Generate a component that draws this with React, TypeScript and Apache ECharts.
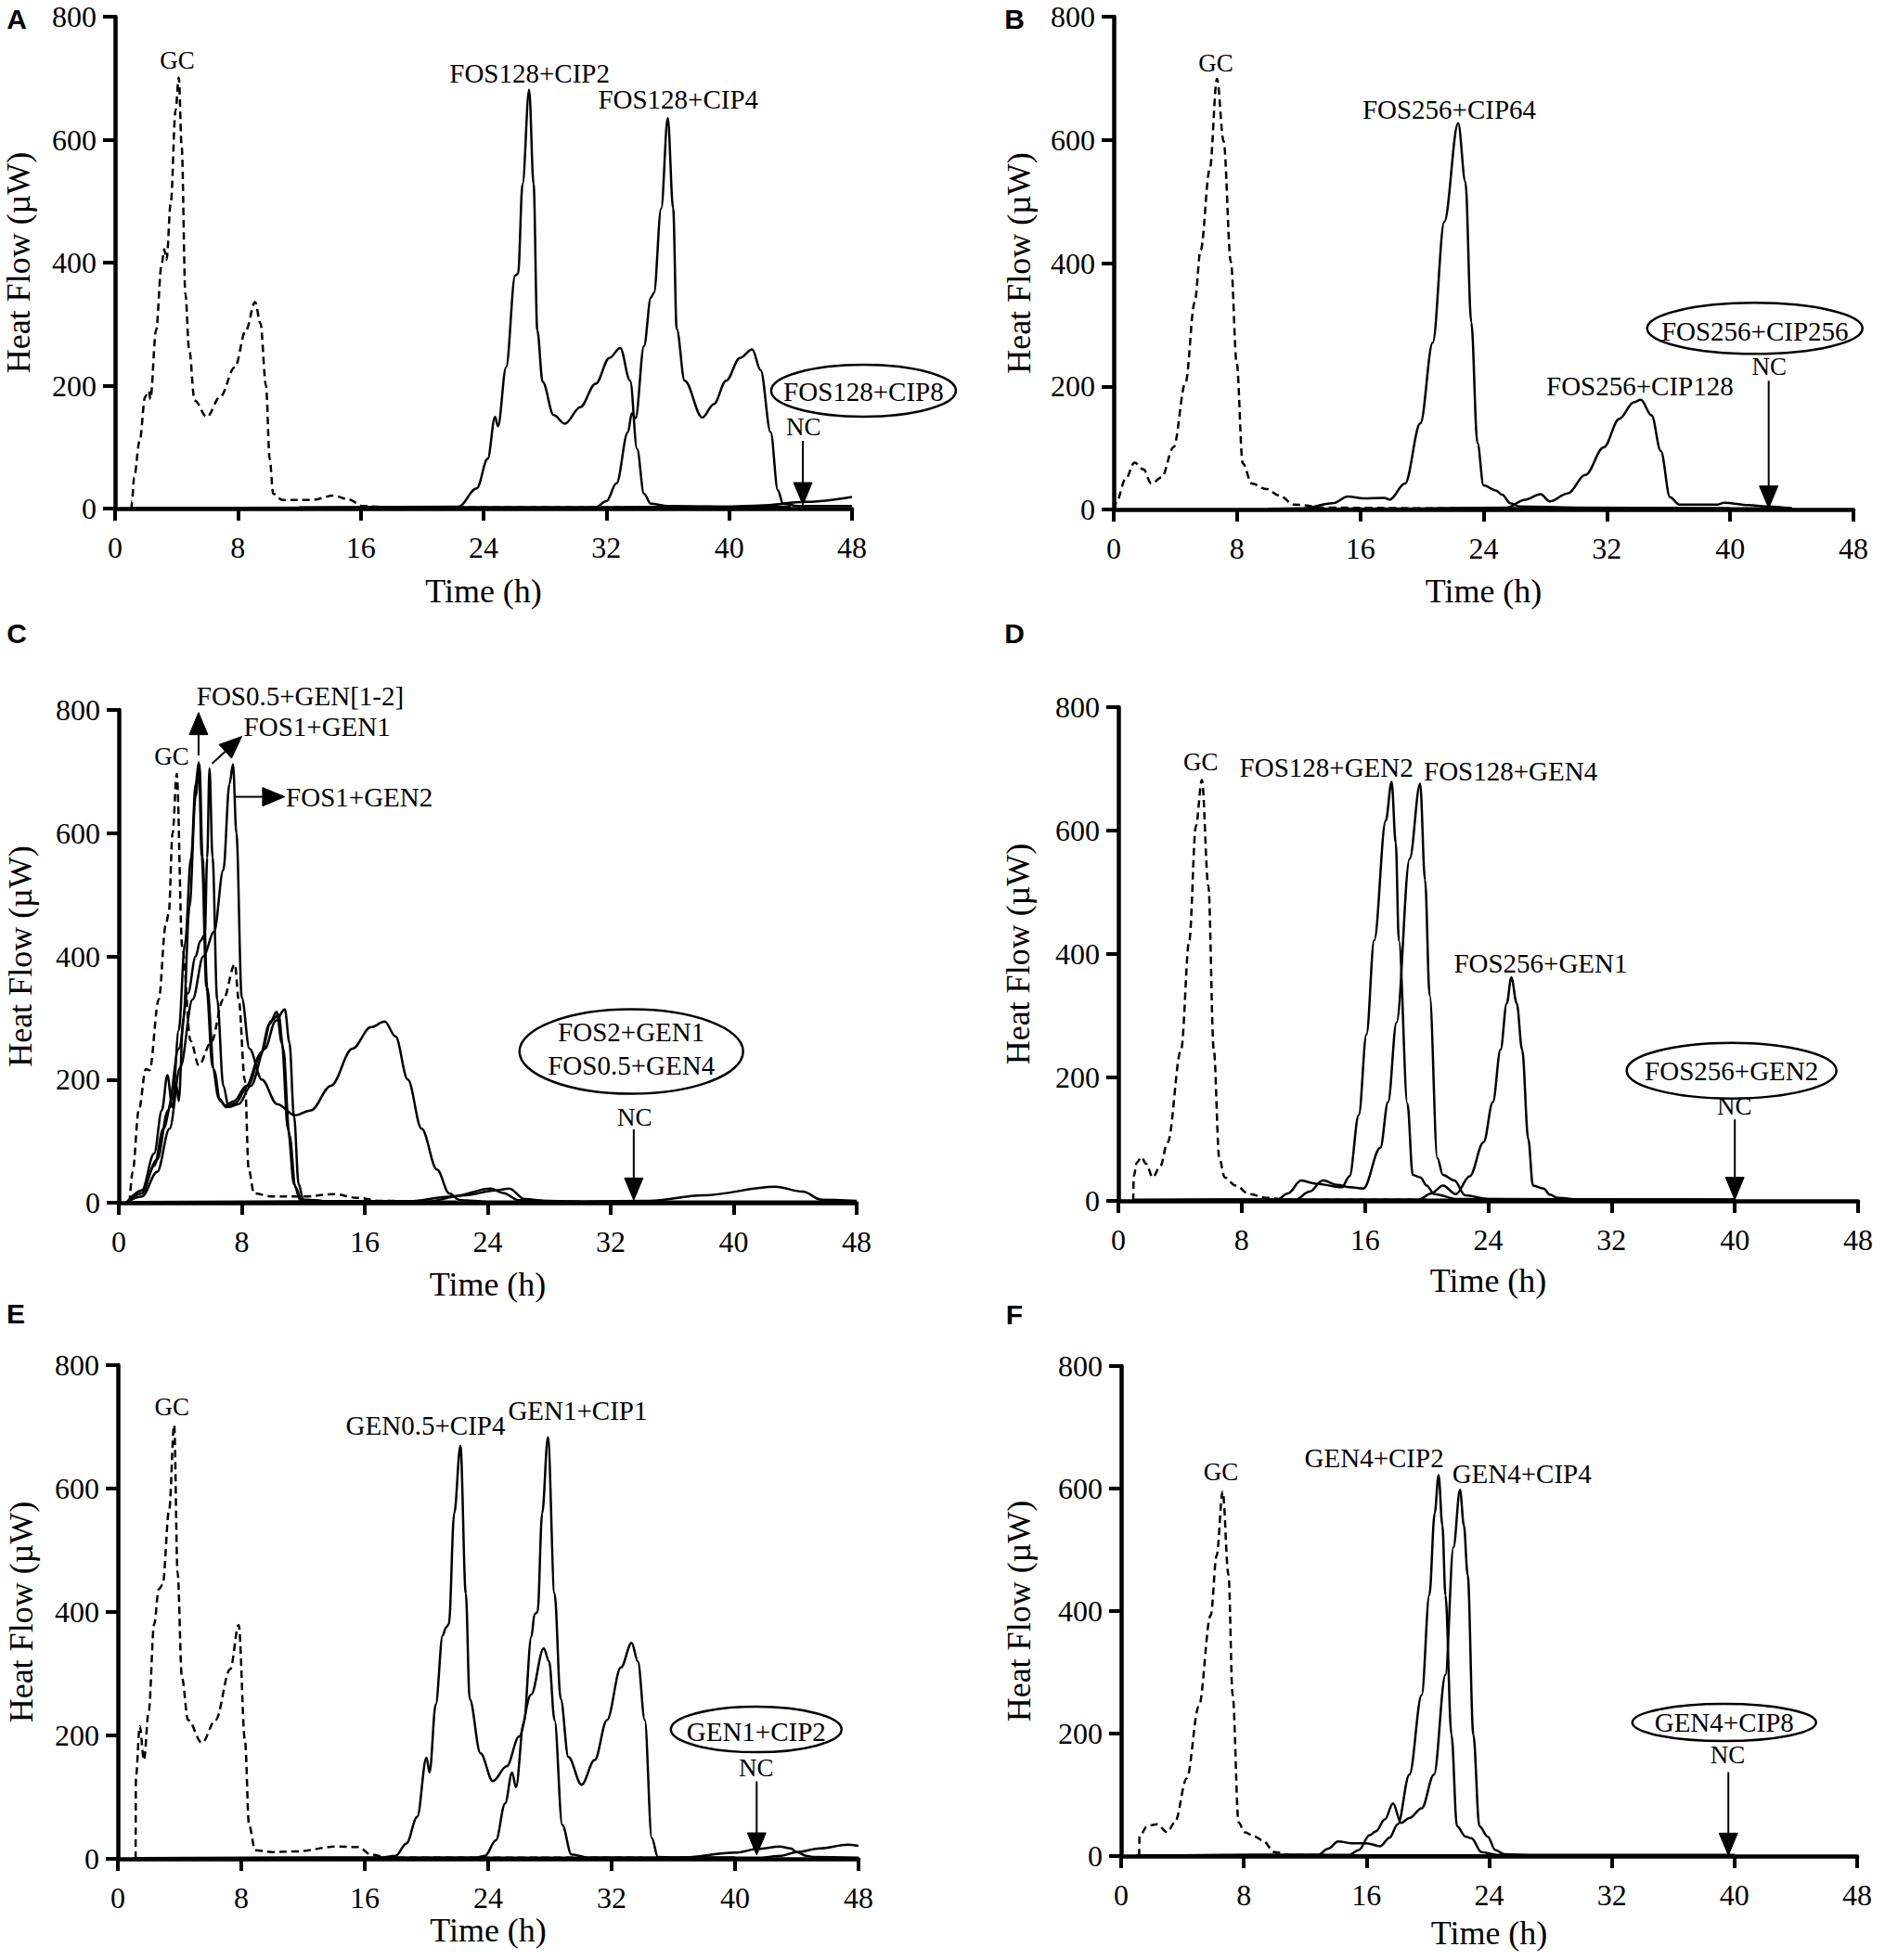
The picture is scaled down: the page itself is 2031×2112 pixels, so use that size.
import React, { useEffect, useRef } from "react";
import * as echarts from "echarts";

// ---------- axis ticks ----------
const X_MIN = 0, X_MAX = 48, X_STEP = 8;
const Y_MIN = 0, Y_MAX = 800, Y_STEP = 200;

// ---------- Panel A ----------
const A_GC = [[1.07,0],[1.1,12],[1.24,51],[1.6,110],[1.96,182],[2.2,191],[2.3,178],[2.67,290],[3.03,397],[3.2,422],[3.35,405],[3.63,498],[3.94,648],[4.15,701],[4.34,588],[4.58,349],[4.82,260],[5.18,176],[5.97,149],[6.85,182],[7.8,230],[8.52,290],[9.12,336],[9.47,301],[9.83,200],[10.07,81],[10.3,24],[10.9,14],[12.8,14],[14.25,21],[15.2,15],[16.15,4],[18,2],[26,2],[34,2],[44,2]];
const A_CIP2 = [[12,2],[22.36,3],[23.56,33],[24.27,81],[24.75,149],[24.94,134],[25.47,230],[26.06,379],[26.25,382],[26.54,528],[26.97,681],[27.26,528],[27.5,290],[27.85,206],[28.57,152],[29.3,138],[30.3,165],[31.3,203],[32.2,245],[32.9,261],[33.55,208],[34.0,97],[34.45,24],[34.9,8],[36,4],[40,3],[44,3]];
const A_CIP4 = [[12,1],[31.3,2],[32.0,12],[32.66,41],[33.4,124],[33.66,155],[33.9,147],[34.45,264],[34.9,343],[35.1,351],[35.57,488],[36.0,635],[36.35,488],[36.58,292],[37.1,208],[38.25,148],[39.0,170],[39.8,208],[40.7,245],[41.5,259],[42.05,225],[42.7,124],[43.17,30],[43.5,8],[44.5,4],[48,4]];
const A_CIP8 = [[1,1],[30,2],[40,3],[42,5],[45,11],[48,19]];

// ---------- Panel B ----------
const B_GC = [[0.05,0],[0.18,13],[0.76,49],[1.35,76],[1.93,65],[2.44,42],[3.1,52],[3.88,101],[4.66,206],[5.25,336],[5.64,421],[6.23,552],[6.7,699],[7.13,598],[7.6,402],[7.98,238],[8.37,75],[8.96,42],[9.94,33],[10.72,23],[11.7,8],[13.8,3],[20,2],[28,2]];
const B_CIP64 = [[10,1],[12.3,2],[14.2,10],[15.2,21],[16.2,18],[17.55,19],[17.9,16],[18.9,42],[19.9,140],[20.7,271],[21.45,467],[22.35,627],[22.82,532],[23.2,304],[23.6,108],[24.0,39],[24.8,31],[25.2,24],[25.75,10],[26.3,5],[30,3],[40,2]];
const B_CIP128 = [[20,1],[25.5,3],[26.7,16],[27.7,25],[28.3,13],[29.45,26],[30.6,56],[31.8,101],[32.8,147],[33.75,174],[34.2,178],[34.9,153],[35.5,95],[36.1,20],[36.7,8],[39.2,8],[39.6,11],[41.2,7],[42.35,5],[44,2]];
const B_CIP256 = [[10,1],[30,2],[44,2]];

// ---------- Panel C ----------
const C_GC = [[0.7,0],[0.9,50],[1.3,150],[1.76,217],[2.0,215],[2.6,330],[3.05,450],[3.25,470],[3.5,600],[3.77,696],[4.13,414],[4.67,263],[5.2,223],[6.0,260],[6.8,330],[7.55,387],[7.8,330],[8.2,199],[8.45,54],[8.8,15],[10,10],[12,10],[14,14],[15.5,8],[17,3],[20,2]];
const C_F05G1 = [[0.5,0],[1.5,20],[2.3,80],[2.8,150],[3.16,207],[3.48,155],[3.9,280],[4.3,420],[4.7,560],[5.0,680],[5.2,715],[5.4,560],[5.7,350],[6.1,220],[6.5,170],[6.93,158],[7.5,165],[8.3,190],[9.2,240],[9.8,290],[10.27,310],[10.6,260],[11.0,120],[11.4,30],[11.8,5],[14,2],[20,2]];
const C_F05G2 = [[0.5,0],[1.5,15],[2.3,60],[2.9,120],[3.5,170],[3.75,190],[3.9,165],[4.2,300],[4.6,480],[5.0,660],[5.25,712],[5.45,560],[5.75,350],[6.2,215],[6.6,165],[7.0,155],[7.6,162],[8.4,190],[9.3,245],[9.9,295],[10.4,305],[10.7,250],[11.1,110],[11.5,25],[11.9,4],[14,2],[20,2]];
const C_F1G1 = [[0.5,0],[1.5,20],[2.5,70],[3.2,150],[3.9,250],[4.5,340],[5.0,400],[5.3,425],[5.6,435],[5.75,560],[5.9,705],[6.1,560],[6.4,330],[6.8,190],[7.15,155],[7.8,160],[8.6,190],[9.5,250],[10.2,295],[10.8,314],[11.1,260],[11.4,140],[11.7,30],[12.0,5],[14,2],[22,2]];
const C_F1G2 = [[0.5,0],[1.5,10],[2.5,50],[3.3,120],[4.0,220],[4.8,330],[5.5,400],[6.2,440],[6.8,540],[7.2,680],[7.43,712],[7.65,600],[8.0,333],[8.5,250],[9.3,200],[10.3,160],[11.46,142],[12.5,150],[13.8,190],[15.2,250],[16.4,285],[17.3,294],[18.0,270],[18.8,200],[19.7,120],[20.7,54],[21.5,15],[22.2,4],[24,2],[30,2]];
const C_F2G1 = [[1,1],[18.7,2],[21.7,10],[24.2,23],[25.0,16],[26,4],[30,2],[34.5,3],[38,12],[42.7,26],[44.5,18],[45.7,5],[48,3]];
const C_F05G4 = [[1,1],[20,2],[22.5,12],[24.5,20],[25.4,23],[26.4,6],[28,2],[48,2]];

// ---------- Panel D ----------
const D_GC = [[0.96,0],[1.0,40],[1.2,62],[1.49,71],[1.8,60],[2.23,38],[2.7,55],[3.2,95],[4.07,245],[4.6,422],[5.03,607],[5.42,682],[5.84,510],[6.19,245],[6.55,69],[6.9,38],[7.6,25],[8.5,11],[9.6,5],[11,2],[20,2]];
const D_F128G2 = [[1,1],[10.3,2],[11.0,12],[11.86,33],[12.8,28],[14.5,22],[15.0,40],[15.6,139],[16.1,270],[16.6,422],[17.35,616],[17.73,679],[18.0,580],[18.2,422],[18.76,157],[19.1,42],[19.6,38],[20.0,25],[20.5,11],[22,3],[30,2],[40,2]];
const D_F128G4 = [[1,1],[11.5,2],[12.4,15],[13.27,33],[14.2,26],[15.0,22],[15.9,20],[17.0,86],[17.5,160],[18.05,289],[18.9,554],[19.58,676],[19.9,520],[20.2,333],[20.7,69],[21.06,42],[21.8,33],[22.5,9],[24,3],[40,2]];
const D_F256G1 = [[1,1],[19.5,2],[20.3,12],[21.06,25],[21.9,11],[22.8,40],[23.7,95],[24.3,160],[24.8,245],[25.2,320],[25.5,362],[25.85,320],[26.2,245],[26.6,100],[26.9,25],[27.6,20],[28.0,10],[28.5,5],[30,2],[40,2]];
const D_F256G2 = [[1,2],[38,2]];

// ---------- Panel E ----------
const E_GC = [[1.15,0],[1.17,133],[1.42,215],[1.69,160],[2.0,240],[2.35,380],[2.65,437],[2.9,444],[3.33,567],[3.65,703],[3.87,464],[4.15,294],[4.55,225],[5.45,188],[6.33,225],[7.28,307],[7.83,379],[8.24,191],[8.5,55],[8.9,14],[10,11],[11.5,12],[14.2,20],[15.6,19],[16.4,7],[17.5,2],[26,2],[34,2]];
const E_G05C4 = [[1,1],[17,2],[18,5],[18.7,25],[19.4,68],[20.0,164],[20.2,140],[20.6,250],[21.05,362],[21.27,375],[21.45,380],[21.8,560],[22.2,669],[22.55,430],[22.8,259],[23.5,171],[24.3,126],[25.2,150],[26.0,198],[26.78,266],[27.6,341],[27.95,320],[28.3,225],[28.8,55],[29.4,7],[30.5,2],[40,2]];
const E_G1C1 = [[1,1],[23.2,2],[23.8,5],[24.5,30],[25.1,90],[25.55,140],[25.8,116],[26.3,220],[26.8,360],[27.0,396],[27.2,400],[27.5,560],[27.87,683],[28.3,430],[28.7,259],[29.2,165],[30.05,120],[30.9,160],[31.7,225],[32.6,310],[33.3,350],[33.7,320],[34.15,225],[34.6,34],[35.0,3],[36,2],[40,2]];
const E_G1C2a = [[1,1],[36.5,2],[40,10],[41.5,16],[42.9,20],[43.6,17],[44,11],[44.6,5],[45.1,3],[48,2]];
const E_G1C2b = [[36,2],[41.6,2],[43,5],[44,11],[45.5,17],[47.3,23],[48,21]];

// ---------- Panel F ----------
const F_GC = [[1.17,0],[1.2,32],[1.7,49],[2.34,52],[3.0,39],[3.5,55],[4.28,127],[5.06,244],[5.84,393],[6.23,491],[6.62,595],[7.0,459],[7.27,263],[7.66,55],[8.05,39],[8.7,32],[9.2,26],[10,6.5],[11,2],[14,1]];
const F_C2 = [[1,1],[12.85,2],[13.5,12],[14.15,24],[15,21],[16,21],[16.9,16],[17.5,30],[18.04,52],[18.8,133],[19.6,263],[20.1,426],[20.45,560],[20.7,622],[20.95,540],[21.15,426],[21.54,198],[21.9,49],[22.45,32],[22.84,29],[23.5,6.5],[24.5,2],[40,2]];
const F_C4 = [[1,1],[14.9,2],[15.5,10],[16.2,34],[16.6,40],[17.2,60],[17.73,86],[18.25,54],[18.8,62],[19.6,78],[20.4,133],[21.15,296],[21.67,504],[22.1,598],[22.35,540],[22.6,459],[22.97,198],[23.36,49],[23.9,32],[24.4,10],[25,3],[27,1],[40,1]];
const F_C8 = [[1,1],[40,1]];

// ---------- series list: [panel, data, dashed] ----------
const SERIES: [number, number[][], boolean][] = [
  [0, A_GC, true], [0, A_CIP2, false], [0, A_CIP4, false], [0, A_CIP8, false],
  [1, B_GC, true], [1, B_CIP64, false], [1, B_CIP128, false], [1, B_CIP256, false],
  [2, C_GC, true], [2, C_F05G1, false], [2, C_F05G2, false], [2, C_F1G1, false], [2, C_F1G2, false], [2, C_F2G1, false], [2, C_F05G4, false],
  [3, D_GC, true], [3, D_F128G2, false], [3, D_F128G4, false], [3, D_F256G1, false], [3, D_F256G2, false],
  [4, E_GC, true], [4, E_G05C4, false], [4, E_G1C1, false], [4, E_G1C2a, false], [4, E_G1C2b, false],
  [5, F_GC, true], [5, F_C2, false], [5, F_C4, false], [5, F_C8, false],
];

// ---------- annotations (data coordinates) ----------
type Lab = [string, number, number, number?];
const LABELS: Lab[][] = [
  [["GC", 4.05, 729, 27], ["FOS128+CIP2", 27.0, 708], ["FOS128+CIP4", 36.68, 666], ["FOS128+CIP8", 48.75, 190], ["NC", 44.84, 133, 27]],
  [["GC", 6.62, 725, 27], ["FOS256+CIP64", 21.77, 650], ["FOS256+CIP128", 34.14, 200], ["FOS256+CIP256", 41.6, 290], ["NC", 42.53, 232, 27]],
  [["GC", 3.44, 725, 27], ["FOS0.5+GEN[1-2]", 11.8, 823], ["FOS1+GEN1", 12.9, 773], ["FOS1+GEN2", 15.65, 659], ["FOS2+GEN1", 33.34, 277], ["FOS0.5+GEN4", 33.34, 222.5], ["NC", 33.55, 138.7, 27]],
  [["GC", 5.34, 711, 27], ["FOS128+GEN2", 13.5, 702.5], ["FOS128+GEN4", 25.45, 695.5], ["FOS256+GEN1", 27.4, 385], ["FOS256+GEN2", 39.79, 211], ["NC", 39.98, 153, 27]],
  [["GC", 3.5, 732.6, 27], ["GEN0.5+CIP4", 19.94, 702], ["GEN1+CIP1", 29.8, 726], ["GEN1+CIP2", 41.37, 206], ["NC", 41.37, 148, 27]],
  [["GC", 6.5, 626.6, 27], ["GEN4+CIP2", 16.5, 650.7], ["GEN4+CIP4", 26.13, 624.4], ["GEN4+CIP8", 39.33, 218], ["NC", 39.55, 164.6, 27]],
];
// ellipse: [t, v, widthPx, heightPx]
const ELLIPSES: number[][] = [
  [48.75, 191.7, 199, 56], [41.6, 294, 232, 55], [33.34, 245.5, 241, 91],
  [39.79, 211, 226, 60], [41.37, 209.6, 184, 49], [39.33, 218, 198, 40],
];
// arrows: [t0, v0, t1, v1] (tail -> tip)
const ARROWS: number[][][] = [
  [[44.8, 110, 44.8, 6]],
  [[42.5, 209, 42.5, 2]],
  [[5.19, 726, 5.19, 796], [6.07, 713, 8.0, 757], [7.58, 659, 10.8, 659], [33.5, 119, 33.5, 4]],
  [[40, 132, 40, 2]],
  [[41.4, 125.6, 41.4, 6]],
  [[39.6, 137, 39.6, 1]],
];

// ---------- layout ----------
const LAYOUT = [
  { id: "A", left: 124, top: 18, width: 794, height: 530, xGap: 71, yGap: 86, lx: 18, ly: 20 },
  { id: "B", left: 1200, top: 18, width: 797, height: 531, xGap: 70, yGap: 84, lx: 1093, ly: 20 },
  { id: "C", left: 128, top: 765, width: 795, height: 531, xGap: 70, yGap: 88, lx: 18, ly: 682 },
  { id: "D", left: 1205, top: 762, width: 797, height: 532, xGap: 68, yGap: 90, lx: 1093, ly: 682 },
  { id: "E", left: 127, top: 1471, width: 798, height: 532, xGap: 55, yGap: 86, lx: 17, ly: 1415 },
  { id: "F", left: 1208, top: 1472, width: 793, height: 528, xGap: 65, yGap: 92, lx: 1093, ly: 1416 },
];

const SERIF_NAME = "Liberation Serif";
const SERIF = '"Liberation Serif", "Times New Roman", serif';

function buildOption() {
  const axisLine = { show: true, onZero: false, lineStyle: { color: "#000", width: 4.5 } };
  const axisTick = { show: true, length: 13, lineStyle: { color: "#000", width: 4 } };
  const labelStyle = { color: "#000", fontSize: 32, fontFamily: SERIF_NAME, fontWeight: "normal" };
  return {
    animation: false,
    backgroundColor: "#fff",
    textStyle: { fontFamily: SERIF_NAME, color: "#000" },
    grid: LAYOUT.map((l) => ({ left: l.left, top: l.top, width: l.width, height: l.height, containLabel: false, outerBoundsMode: "none" })),
    xAxis: LAYOUT.map((l, i) => ({
      type: "value", gridIndex: i, min: X_MIN, max: X_MAX, interval: X_STEP,
      axisLine, axisTick, splitLine: { show: false },
      axisLabel: { ...labelStyle, margin: 26 },
      name: "Time (h)", nameLocation: "middle", nameGap: l.xGap,
      nameTextStyle: { color: "#000", fontSize: 36, fontFamily: SERIF_NAME },
    })),
    yAxis: LAYOUT.map((l, i) => ({
      type: "value", gridIndex: i, min: Y_MIN, max: Y_MAX, interval: Y_STEP,
      axisLine, axisTick, splitLine: { show: false },
      axisLabel: { ...labelStyle, margin: 20 },
      name: "Heat Flow (µW)", nameLocation: "middle", nameGap: l.yGap, nameRotate: 90,
      nameTextStyle: { color: "#000", fontSize: 36, fontFamily: SERIF_NAME },
    })),
    series: SERIES.map(([p, data, dashed]) => ({
      type: "line", xAxisIndex: p, yAxisIndex: p, data,
      showSymbol: false, symbol: "none", smooth: 0.35, smoothMonotone: "x",
      silent: true,
      lineStyle: { color: "#000", width: 2.5, type: dashed ? [8, 5] : "solid" },
    })),
  };
}

function buildGraphics(chart: any) {
  const g: any[] = [];
  LAYOUT.forEach((l, i) => {
    const px = (t: number, v: number) => chart.convertToPixel({ gridIndex: i }, [t, v]);
    g.push({
      type: "text", silent: true, x: l.lx, y: l.ly,
      style: { text: l.id, font: 'bold 30px "Liberation Sans", Arial, sans-serif', fill: "#000", align: "center", verticalAlign: "middle", textAlign: "center", textVerticalAlign: "middle" },
    });
    LABELS[i].forEach(([text, t, v, fs]) => {
      const [x, y] = px(t, v);
      g.push({
        type: "text", silent: true, x, y,
        style: { text, font: `${fs || 29}px ${SERIF}`, fill: "#000", align: "center", verticalAlign: "middle", textAlign: "center", textVerticalAlign: "middle" },
      });
    });
    const [et, ev, ew, eh] = ELLIPSES[i];
    const [cx, cy] = px(et, ev);
    g.push({ type: "ellipse", silent: true, shape: { cx, cy, rx: ew / 2, ry: eh / 2 }, style: { fill: "none", stroke: "#000", lineWidth: 2.5 } });
    ARROWS[i].forEach(([t0, v0, t1, v1]) => {
      const [x0, y0] = px(t0, v0);
      const [x1, y1] = px(t1, v1);
      const dx = x1 - x0, dy = y1 - y0;
      const len = Math.sqrt(dx * dx + dy * dy) || 1;
      const ux = dx / len, uy = dy / len;
      const L = 24, W = 10;
      const bx = x1 - ux * L, by = y1 - uy * L;
      g.push({ type: "line", silent: true, shape: { x1: x0, y1: y0, x2: bx, y2: by }, style: { stroke: "#000", lineWidth: 2 } });
      g.push({
        type: "polygon", silent: true,
        shape: { points: [[x1, y1], [bx - uy * W, by + ux * W], [bx + uy * W, by - ux * W]] },
        style: { fill: "#000", stroke: "#000", lineWidth: 1 },
      });
    });
  });
  return g;
}

export default function App() {
  const ref = useRef<HTMLDivElement>(null);
  useEffect(() => {
    document.body.style.margin = "0";
    if (!ref.current) return;
    const chart = echarts.init(ref.current, null, { renderer: "svg" });
    chart.setOption(buildOption() as any);
    chart.setOption({ graphic: buildGraphics(chart) } as any);
    return () => chart.dispose();
  }, []);
  return <div ref={ref} style={{ width: 2031, height: 2112, background: "#fff" }} />;
}
